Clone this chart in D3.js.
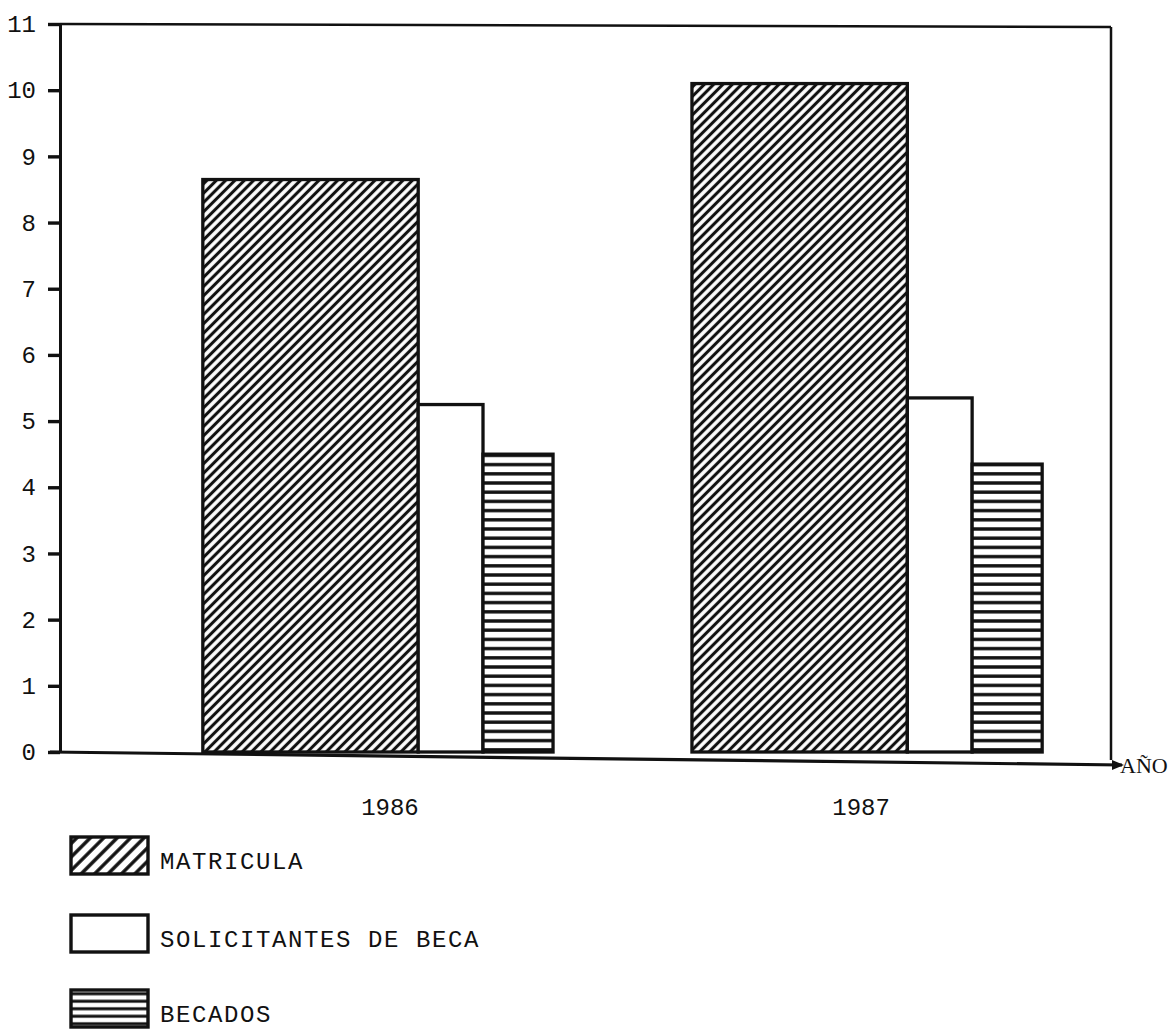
<!DOCTYPE html>
<html>
<head>
<meta charset="utf-8">
<script src="https://cdn.jsdelivr.net/npm/d3@7"></script>
<style>
  body { margin: 0; background: #fff; }
  text { font-family: "Liberation Mono", "Courier New", monospace; fill: #111; }
</style>
</head>
<body>
<div id="chart"></div>
<script>
const years = ["1986", "1987"];
const series = ["MATRICULA", "SOLICITANTES DE BECA", "BECADOS"];
const matricula = [8.65, 10.1];
const solicitantes = [5.25, 5.35];
const becados = [4.5, 4.35];
const yTicks = [0, 1, 2, 3, 4, 5, 6, 7, 8, 9, 10, 11];

const width = 1172;
const height = 1030;
const ink = "#111";

const values = [matricula, solicitantes, becados];
const rows = [];
years.forEach((yr, i) => {
    series.forEach((s, j) => rows.push({ year: yr, series: s, idx: j, value: values[j][i] }));
});

// bar widths in the drawing are not equal: wide matricula, narrow others
const widthFrac = [0.615, 0.185, 0.2];
const offFrac = [0, 0.615, 0.8];

const svg = d3.select("#chart").append("svg")
    .attr("width", width)
    .attr("height", height);

const defs = svg.append("defs");

function diagPattern(id, gap, sw) {
    const p = defs.append("pattern")
        .attr("id", id)
        .attr("patternUnits", "userSpaceOnUse")
        .attr("width", gap).attr("height", gap)
        .attr("patternTransform", "rotate(45)");
    p.append("rect").attr("width", gap).attr("height", gap).attr("fill", "#fff");
    p.append("line")
        .attr("x1", gap / 2).attr("y1", 0).attr("x2", gap / 2).attr("y2", gap)
        .attr("stroke", ink).attr("stroke-width", sw);
}
function horizPattern(id, gap, sw) {
    const p = defs.append("pattern")
        .attr("id", id)
        .attr("patternUnits", "userSpaceOnUse")
        .attr("width", 10).attr("height", gap);
    p.append("rect").attr("width", 10).attr("height", gap).attr("fill", "#fff");
    p.append("line")
        .attr("x1", 0).attr("y1", gap / 2).attr("x2", 10).attr("y2", gap / 2)
        .attr("stroke", ink).attr("stroke-width", sw);
}
diagPattern("hatch", 6.6, 3.1);
horizPattern("stripes", 9.2, 3.4);
diagPattern("hatchLegend", 9.5, 3.4);
horizPattern("stripesLegend", 7.5, 3);

const fills = ["url(#hatch)", "#fff", "url(#stripes)"];
const legendFills = ["url(#hatchLegend)", "#fff", "url(#stripesLegend)"];

const y = d3.scaleLinear().domain([0, 11]).range([752, 24]);

const x0 = d3.scaleBand()
    .domain(years)
    .range([60, 1185])
    .paddingInner(0.284)
    .paddingOuter(0.292);

const bw = x0.bandwidth();

// frame: top and right lines
const xRight = 1111;
svg.append("line")
    .attr("x1", 60).attr("y1", y(11)).attr("x2", xRight).attr("y2", y(11) + 3)
    .attr("stroke", ink).attr("stroke-width", 2.5);
svg.append("line")
    .attr("x1", xRight).attr("y1", y(11) + 3).attr("x2", xRight).attr("y2", y(0) + 8)
    .attr("stroke", ink).attr("stroke-width", 2.5);

// bars
svg.append("g").selectAll("rect")
    .data(rows)
    .enter()
    .append("rect")
    .attr("x", d => x0(d.year) + offFrac[d.idx] * bw)
    .attr("y", d => y(d.value))
    .attr("width", d => widthFrac[d.idx] * bw)
    .attr("height", d => y(0) - y(d.value))
    .attr("fill", d => fills[d.idx])
    .attr("stroke", ink)
    .attr("stroke-width", 3.3);

// y axis
const yAxis = svg.append("g")
    .attr("transform", "translate(60,0)")
    .call(d3.axisLeft(y).tickValues(yTicks).tickSize(12).tickSizeOuter(0).tickPadding(12));
yAxis.select(".domain").attr("stroke", ink).attr("stroke-width", 3);
yAxis.selectAll(".tick line").attr("stroke", ink).attr("stroke-width", 3.4);
yAxis.selectAll(".tick text")
    .style("font-size", "24px")
    .attr("fill", ink);

// x axis baseline with arrow to AÑO
svg.append("line")
    .attr("x1", 50).attr("y1", y(0)).attr("x2", 1122).attr("y2", y(0) + 13)
    .attr("stroke", ink).attr("stroke-width", 3.2);
svg.append("path")
    .attr("d", `M1112,${y(0) + 8} L1124,${y(0) + 13} L1112,${y(0) + 18} Z`)
    .attr("fill", ink);
svg.append("text")
    .attr("x", 1120).attr("y", y(0) + 21)
    .style("font-size", "22px")
    .style("font-family", "'Liberation Serif', serif")
    .text("AÑO");

// year labels
const xAxis = svg.append("g")
    .attr("transform", `translate(0,${y(0)})`)
    .call(d3.axisBottom(x0).tickSize(0).tickPadding(46));
xAxis.select(".domain").remove();
xAxis.selectAll(".tick text")
    .style("font-size", "24px")
    .attr("fill", ink)
    .attr("dx", (d, i) => i === 0 ? 12 : -6);

// legend
const legendY = [837, 915, 990];
const legend = svg.append("g").selectAll("g")
    .data(series)
    .enter()
    .append("g")
    .attr("transform", (d, i) => `translate(71,${legendY[i]})`);
legend.append("rect")
    .attr("width", 77).attr("height", 37)
    .attr("fill", (d, i) => legendFills[i])
    .attr("stroke", ink)
    .attr("stroke-width", 3.4);
legend.append("text")
    .attr("x", 89).attr("y", 32)
    .style("font-size", "24px")
    .style("letter-spacing", "1.6px")
    .text(d => d);
</script>
</body>
</html>
